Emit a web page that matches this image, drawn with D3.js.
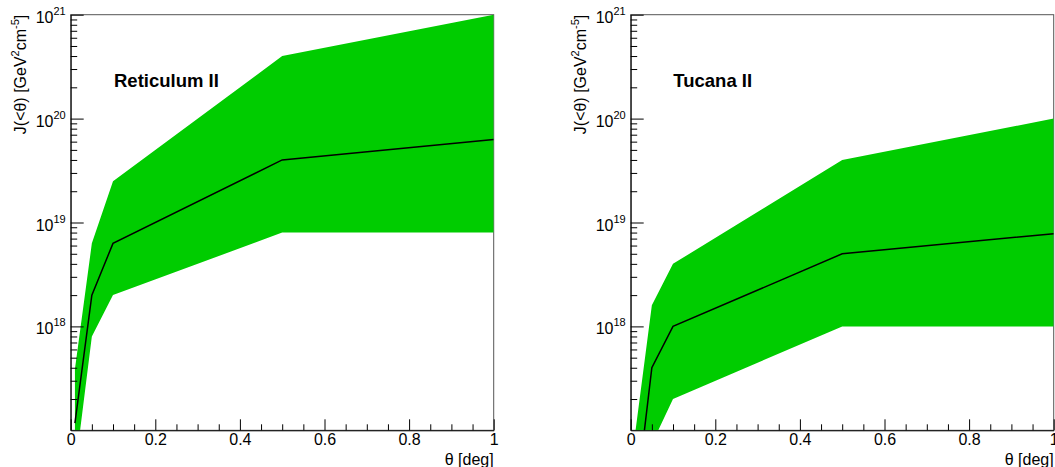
<!DOCTYPE html>
<html>
<head>
<meta charset="utf-8">
<script src="https://cdn.jsdelivr.net/npm/d3@7"></script>
<style>
  html, body { margin: 0; padding: 0; background: #fff; }
  svg { display: block; }
  text { font-family: "Liberation Sans", Arial, sans-serif; fill: #000; }
</style>
</head>
<body>
<svg id="chart" width="1055" height="467"></svg>
<script>
// ---- data ----
const theta = [0.01, 0.05, 0.1, 0.5, 1.0];

const retMedian = [1.17e17, 2.0e18, 6.3e18, 4.0e19, 6.3e19];
const retUpper  = [3.9e17, 6.3e18, 2.5e19, 4.0e20, 1.0e21];
const retLower  = [4.0e16, 8.0e17, 2.0e18, 8.0e18, 8.0e18];

const tucMedian = [1.7e16, 4.0e17, 1.0e18, 5.0e18, 7.8e18];
const tucUpper  = [9.0e16, 1.6e18, 4.0e18, 4.0e19, 1.0e20];
const tucLower  = [1.0e16, 7.4e16, 2.0e17, 1.0e18, 1.0e18];

const panelNames = ["Reticulum II", "Tucana II"];
const xTickValues = [0, 0.2, 0.4, 0.6, 0.8, 1.0];
const xTickLabels = ["0", "0.2", "0.4", "0.6", "0.8", "1"];
const yMajorExp = [18, 19, 20, 21];
const yDomain = [1e17, 1e21];
const xDomain = [0, 1];

// ---- layout ----
const svg = d3.select("#chart");
const frameTop = 14.7, frameBottom = 430.3, frameWidth = 423;
const panels = [
  { left: 70.7, name: panelNames[0], median: retMedian, upper: retUpper, lower: retLower, titleX: 114 },
  { left: 630.7, name: panelNames[1], median: tucMedian, upper: tucUpper, lower: tucLower, titleX: 673.3 }
];

const yMinor = [];
for (let e = 17; e < 21; e++) for (let m = 2; m <= 9; m++) yMinor.push(m * Math.pow(10, e));
const xMinor = d3.range(0, 21).map(i => i * 0.05).filter(v => !xTickValues.some(t => Math.abs(t - v) < 1e-9));

panels.forEach((p, i) => {
  const x = d3.scaleLinear().domain(xDomain).range([p.left, p.left + frameWidth]);
  const y = d3.scaleLog().domain(yDomain).range([frameBottom, frameTop]);
  const g = svg.append("g");

  const clipId = "clip" + i;
  svg.append("clipPath").attr("id", clipId)
    .append("rect").attr("x", p.left).attr("y", frameTop)
    .attr("width", frameWidth).attr("height", frameBottom - frameTop);

  const rows = theta.map((t, k) => ({ t, lo: p.lower[k], hi: p.upper[k], med: p.median[k] }));

  // frame (top/right)
  g.append("rect").attr("x", p.left).attr("y", frameTop)
    .attr("width", frameWidth).attr("height", frameBottom - frameTop)
    .attr("fill", "none").attr("stroke", "#555").attr("stroke-width", 1);

  const area = d3.area().x(d => x(d.t)).y0(d => y(d.lo)).y1(d => y(d.hi));
  g.append("path").datum(rows).attr("d", area)
    .attr("fill", "#00cc00").attr("stroke", "none")
    .attr("clip-path", `url(#${clipId})`);

  const line = d3.line().x(d => x(d.t)).y(d => y(d.med));
  g.append("path").datum(rows).attr("d", line)
    .attr("fill", "none").attr("stroke", "#000").attr("stroke-width", 1.5)
    .attr("clip-path", `url(#${clipId})`);

  // y axis ticks
  const yMaj = yMajorExp.map(e => Math.pow(10, e));
  g.append("g").attr("transform", `translate(${p.left},0)`)
    .call(d3.axisLeft(y).tickValues(yMinor).tickSize(-6.5).tickSizeOuter(0).tickFormat(() => ""))
    .call(a => a.select(".domain").remove());
  const ya = g.append("g").attr("transform", `translate(${p.left},0)`)
    .call(d3.axisLeft(y).tickValues(yMaj).tickSize(-13).tickSizeOuter(0).tickFormat(() => ""));
  ya.selectAll("line, path").attr("stroke", "#000");
  g.selectAll(".tick line").attr("stroke", "#000");

  // y tick labels with superscripts
  yMajorExp.forEach(e => {
    const t = g.append("text")
      .attr("x", p.left - 5).attr("y", y(Math.pow(10, e)) + 8)
      .attr("text-anchor", "end").attr("font-size", 16);
    t.append("tspan").text("10");
    t.append("tspan").attr("font-size", 11).attr("dy", -8).text(String(e));
  });

  // x axis
  g.append("g").attr("transform", `translate(0,${frameBottom})`)
    .call(d3.axisBottom(x).tickValues(xMinor).tickSize(-6).tickSizeOuter(0).tickFormat(() => ""))
    .call(a => a.select(".domain").remove())
    .selectAll("line").attr("stroke", "#000");
  const xa = g.append("g").attr("transform", `translate(0,${frameBottom})`)
    .call(d3.axisBottom(x).tickValues(xTickValues).tickSize(-11).tickSizeOuter(0).tickPadding(3.5)
      .tickFormat((d, k) => xTickLabels[k]));
  xa.selectAll("text").attr("font-size", 16).attr("font-family", "Liberation Sans, Arial, sans-serif").attr("fill", "#000");
  xa.selectAll("line, path").attr("stroke", "#000");

  // axis titles
  g.append("text").attr("x", p.left + frameWidth).attr("y", 465)
    .attr("text-anchor", "end").attr("font-size", 16).text("θ [deg]");

  const yt = g.append("text")
    .attr("transform", `translate(${p.left - 45},${frameTop}) rotate(-90)`)
    .attr("text-anchor", "end").attr("font-size", 16);
  yt.append("tspan").text("J(<θ) [GeV");
  yt.append("tspan").attr("font-size", 11).attr("dy", -7).text("2");
  yt.append("tspan").attr("dy", 7).text("cm");
  yt.append("tspan").attr("font-size", 11).attr("dy", -7).text("-5");
  yt.append("tspan").attr("dy", 7).text("]");

  // panel title
  g.append("text").attr("x", p.titleX).attr("y", 86.7)
    .attr("font-size", 18.5).attr("font-weight", "bold").text(p.name);
});
</script>
</body>
</html>
